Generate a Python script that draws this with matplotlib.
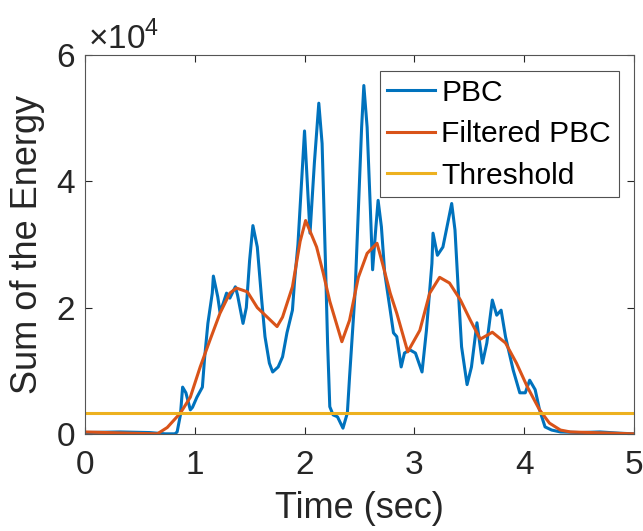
import matplotlib.pyplot as plt
import numpy as np

plt.rcParams['font.family'] = ['Liberation Sans', 'DejaVu Sans']
plt.rcParams['mathtext.fontset'] = 'custom'
plt.rcParams['mathtext.rm'] = 'Liberation Sans'

# PBC (raw) curve, time in sec, value in units of 1e4
t_pbc = [0.0, 0.32, 0.59, 0.73, 0.82, 0.84, 0.87, 0.89, 0.92, 0.96, 0.98, 1.02, 1.07,
         1.09, 1.12, 1.16, 1.17, 1.21, 1.23, 1.26, 1.29, 1.32, 1.37, 1.39, 1.44, 1.47,
         1.50, 1.53, 1.57, 1.61, 1.64, 1.68, 1.71, 1.76, 1.80, 1.84, 1.89, 1.91, 1.94,
         1.98, 2.00, 2.05, 2.09, 2.13, 2.16, 2.19, 2.21, 2.23, 2.26, 2.30, 2.35, 2.39,
         2.41, 2.46, 2.49, 2.52, 2.54, 2.57, 2.60, 2.62, 2.65, 2.67, 2.70, 2.73, 2.78,
         2.81, 2.84, 2.88, 2.91, 2.96, 3.01, 3.07, 3.11, 3.16, 3.17, 3.21, 3.26, 3.31,
         3.34, 3.37, 3.40, 3.43, 3.48, 3.52, 3.57, 3.60, 3.62, 3.66, 3.71, 3.75, 3.79,
         3.83, 3.90, 3.96, 4.01, 4.05, 4.10, 4.14, 4.19, 4.25, 4.33, 4.51, 4.69, 4.87, 5.0]
v_pbc = [0.02, 0.03, 0.02, 0.0, 0.0, 0.03, 0.3, 0.74, 0.65, 0.38, 0.42, 0.58, 0.74,
         1.2, 1.75, 2.23, 2.5, 2.17, 1.93, 2.07, 2.23, 2.15, 2.33, 2.2, 1.75, 2.0,
         2.75, 3.3, 2.96, 2.12, 1.54, 1.12, 0.98, 1.06, 1.22, 1.6, 1.96, 2.44, 3.0,
         4.2, 4.8, 3.18, 4.3, 5.24, 4.6, 2.75, 1.44, 0.43, 0.3, 0.27, 0.09, 0.33,
         0.9, 2.23, 3.54, 4.86, 5.52, 4.86, 3.54, 2.6, 3.28, 3.7, 3.28, 2.55, 1.96,
         1.6, 1.54, 1.06, 1.28, 1.33, 1.28, 0.98, 1.64, 2.7, 3.18, 2.83, 2.96, 3.39,
         3.65, 3.23, 2.28, 1.38, 0.78, 1.06, 1.76, 1.38, 1.12, 1.44, 2.12, 1.88, 1.96,
         1.54, 1.01, 0.65, 0.65, 0.85, 0.7, 0.38, 0.11, 0.06, 0.03, 0.02, 0.03, 0.01, 0.0]

# Filtered PBC curve
t_filt = [0.0, 0.41, 0.66, 0.75, 0.87, 0.96, 1.05, 1.14, 1.23, 1.32, 1.38, 1.48, 1.57,
          1.66, 1.75, 1.80, 1.89, 1.96, 2.01, 2.11, 2.17, 2.23, 2.34, 2.41, 2.49, 2.57,
          2.66, 2.71, 2.78, 2.84, 2.94, 3.05, 3.14, 3.23, 3.32, 3.42, 3.51, 3.60, 3.71,
          3.83, 3.93, 4.03, 4.14, 4.23, 4.33, 4.42, 5.0]
v_filt = [0.03, 0.01, 0.0, 0.1, 0.33, 0.58, 1.06, 1.49, 1.91, 2.23, 2.31, 2.25, 2.0,
          1.85, 1.7, 1.85, 2.33, 3.05, 3.38, 2.96, 2.55, 2.1, 1.46, 1.8, 2.48, 2.86,
          3.02, 2.7, 2.23, 1.91, 1.3, 1.64, 2.23, 2.48, 2.39, 2.12, 1.8, 1.5, 1.61,
          1.44, 1.12, 0.74, 0.38, 0.17, 0.06, 0.03, 0.0]

threshold = 0.33
scale = 1e4

fig = plt.figure(figsize=(6.43, 5.31), dpi=100)
ax = fig.add_axes([0.132, 0.183, 0.854, 0.713])

ax.plot(np.array(t_pbc), np.array(v_pbc) * scale, color='#0072BD', lw=2.2, label='PBC')
ax.plot(np.array(t_filt), np.array(v_filt) * scale, color='#D95319', lw=2.2, label='Filtered PBC')
ax.plot([0, 5], [threshold * scale, threshold * scale], color='#EDB120', lw=2.2, label='Threshold')

ax.set_xlim(0, 5)
ax.set_ylim(0, 6e4)
ax.set_xticks([0, 1, 2, 3, 4, 5])
ax.set_yticks([0, 2e4, 4e4, 6e4])
ax.set_yticklabels(['0', '2', '4', '6'])
ax.tick_params(direction='in', top=True, right=True, labelsize=24, colors='#262626',
               length=5, width=0.8)
ax.tick_params(axis='x', pad=12)
ax.tick_params(axis='y', pad=7)
for s in ax.spines.values():
    s.set_color('#555555')
    s.set_linewidth(0.8)

ax.set_xlabel('Time (sec)', fontsize=26, color='#262626', labelpad=7)
ax.set_ylabel('Sum of the Energy', fontsize=26, color='#262626', labelpad=8)
ax.text(0.005, 0.998, r'$\times 10^{4}$', transform=ax.transAxes, fontsize=24,
        color='#262626', ha='left', va='bottom')

leg = ax.legend(loc='upper right', bbox_to_anchor=(0.972, 0.958), fontsize=21.6,
                frameon=True, fancybox=False, handlelength=1.6, handletextpad=0.2,
                borderpad=0.25, labelspacing=0.45, borderaxespad=0)
leg.get_frame().set_edgecolor('#262626')
leg.get_frame().set_linewidth(0.8)

fig.savefig('out.png', dpi=100)
